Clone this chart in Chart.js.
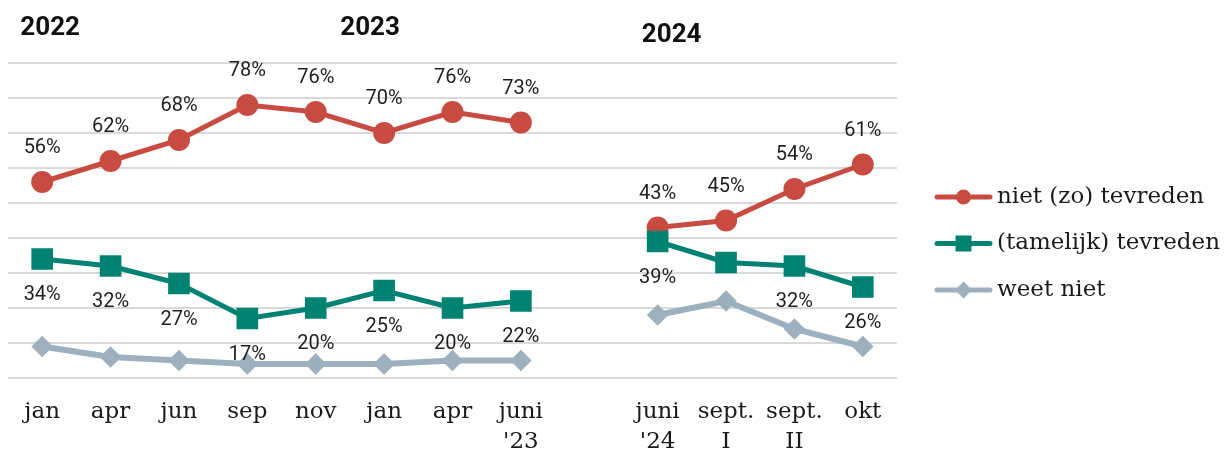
<!DOCTYPE html>
<html>
<head>
<meta charset="utf-8">
<script src="https://cdn.jsdelivr.net/npm/chart.js@4.4.1/dist/chart.umd.min.js"></script>
<style>
  html, body { margin: 0; padding: 0; background: #fff; }
  #wrap { width: 1225px; height: 449px; }
</style>
</head>
<body>
<div id="wrap"><canvas id="tevredenChart"></canvas></div>
<script>
const categories = [
  'jan', 'apr', 'jun', 'sep', 'nov', 'jan', 'apr', ['juni', "'23"],
  '',
  ['juni', "'24"], ['sept.', 'I'], ['sept.', 'II'], 'okt'
];
const nietTevreden = [56, 62, 68, 78, 76, 70, 76, 73, null, 43, 45, 54, 61];
const tamelijkTevreden = [34, 32, 27, 17, 20, 25, 20, 22, null, 39, 33, 32, 26];
const weetNiet = [9, 6, 5, 4, 4, 4, 5, 5, null, 18, 22, 14, 9];
const years = ['2022', '2023', '2024'];
const yearStartIndex = [0, 5, 9];

const RED = '#c84b41';
const GREEN = '#008273';
const GREY = '#9db0bd';

// percentage labels above / below the points
const valueLabels = {
    id: 'valueLabels',
    afterDatasetsDraw(chart) {
        const ctx = chart.ctx;
        ctx.save();
        ctx.font = '20px Roboto';
        ctx.fillStyle = '#1f1f1f';
        ctx.textAlign = 'center';
        ctx.textBaseline = 'middle';
        chart.data.datasets.forEach((ds, i) => {
            if (ds.labelOffset === undefined) return;
            chart.getDatasetMeta(i).data.forEach((pt, j) => {
                const v = ds.data[j];
                if (v === null || (ds.hideLabelAt || []).includes(j)) return;
                ctx.fillText(v + '%', pt.x, pt.y + ds.labelOffset);
            });
        });
        ctx.restore();
    }
};

// year headings over the chart
const yearHeadings = {
    id: 'yearHeadings',
    afterDraw(chart) {
        const ctx = chart.ctx;
        const x = chart.scales.x;
        const top = chart.chartArea.top;
        const nudgeX = [8, -14, 14];
        const nudgeY = [-35, -35, -28];
        ctx.save();
        ctx.font = 'bold 26px Roboto';
        ctx.fillStyle = '#111';
        ctx.textAlign = 'center';
        ctx.textBaseline = 'middle';
        years.forEach((y, i) => {
            ctx.fillText(y, x.getPixelForValue(yearStartIndex[i]) + nudgeX[i], top + nudgeY[i]);
        });
        ctx.restore();
    }
};

// legend with line + marker samples
const lineLegend = {
    id: 'lineLegend',
    afterDraw(chart) {
        const ctx = chart.ctx;
        const area = chart.chartArea;
        const x0 = area.right + 38;
        const lineLen = 57;
        const midY = (area.top + area.bottom) / 2 + 23;
        const sizes = [7.5, 11.3, 8.5];
        ctx.save();
        chart.data.datasets.forEach((ds, i) => {
            const y = midY + (i - 1) * 46.5;
            ctx.strokeStyle = ds.borderColor;
            ctx.fillStyle = ds.borderColor;
            ctx.lineWidth = 5;
            ctx.lineCap = 'round';
            ctx.beginPath();
            ctx.moveTo(x0 + 2, y);
            ctx.lineTo(x0 + lineLen - 2, y);
            ctx.stroke();
            Chart.helpers.drawPoint(ctx, {
                pointStyle: ds.pointStyle, radius: sizes[i], rotation: 0, borderWidth: 0
            }, x0 + lineLen / 2, y);
            ctx.fillStyle = '#1a1a1a';
            ctx.font = '23px "DejaVu Serif"';
            ctx.textAlign = 'left';
            ctx.textBaseline = 'middle';
            ctx.fillText(ds.label, x0 + lineLen + 5, y);
        });
        ctx.restore();
    }
};

new Chart(document.getElementById('tevredenChart'), {
    type: 'line',
    data: {
        labels: categories,
        datasets: [{
            label: 'niet (zo) tevreden',
            data: nietTevreden,
            borderColor: RED,
            backgroundColor: RED,
            borderWidth: 5,
            pointStyle: 'circle',
            pointRadius: 11,
            pointBorderWidth: 0,
            order: 1,
            labelOffset: -34
        }, {
            label: '(tamelijk) tevreden',
            data: tamelijkTevreden,
            borderColor: GREEN,
            backgroundColor: GREEN,
            borderWidth: 5,
            pointStyle: 'rect',
            pointRadius: 15.3,
            pointBorderWidth: 0,
            order: 0,
            labelOffset: 36,
            hideLabelAt: [10]
        }, {
            label: 'weet niet',
            data: weetNiet,
            borderColor: GREY,
            backgroundColor: GREY,
            borderWidth: 6,
            pointStyle: 'rectRot',
            pointRadius: 10.8,
            pointBorderWidth: 0,
            order: 2
        }]
    },
    options: {
        responsive: true,
        maintainAspectRatio: false,
        animation: false,
        layout: {
            autoPadding: false,
            padding: { left: 8, top: 63, right: 328, bottom: 0 }
        },
        plugins: {
            legend: { display: false },
            tooltip: { enabled: false }
        },
        scales: {
            x: {
                offset: true,
                grid: { display: false },
                border: { display: false },
                ticks: {
                    color: '#1a1a1a',
                    font: { family: 'DejaVu Serif', size: 23, lineHeight: 1.3 },
                    padding: 11,
                    maxRotation: 0,
                    autoSkip: false
                },
                afterFit(axis) { axis.height = 71; }
            },
            y: {
                min: 0,
                max: 90,
                ticks: { display: false, stepSize: 10 },
                grid: { color: '#d9d9d9', lineWidth: 2, drawTicks: false },
                border: { display: false }
            }
        }
    },
    plugins: [valueLabels, yearHeadings, lineLegend]
});
</script>
</body>
</html>
